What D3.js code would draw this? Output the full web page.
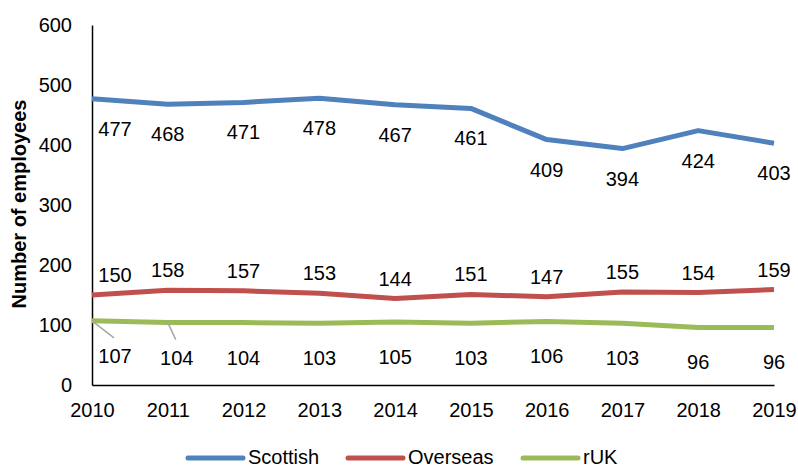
<!DOCTYPE html>
<html><head><meta charset="utf-8">
<script src="https://cdn.jsdelivr.net/npm/d3@7"></script>
<style>body{margin:0;background:#fff}svg{display:block}text{font-family:"Liberation Sans",Arial,sans-serif}</style>
</head><body><svg id="c" width="798" height="467"></svg>
<script>
const years = [2010,2011,2012,2013,2014,2015,2016,2017,2018,2019];
const scottish = [477,468,471,478,467,461,409,394,424,403];
const overseas = [150,158,157,153,144,151,147,155,154,159];
const ruk = [107,104,104,103,105,103,106,103,96,96];
const yTicks = [0,100,200,300,400,500,600];
const seriesNames = ["Scottish","Overseas","rUK"];
const colors = ["#4F81BD","#C0504D","#9BBB59"];

const svg = d3.select("#c");
const x = d3.scaleLinear().domain([2010,2019]).range([92,774]);
const y = d3.scaleLinear().domain([0,600]).range([385,25]);
const fs = 20;

// axes
const yAxis = svg.append("g").attr("transform","translate(92,0)")
  .call(d3.axisLeft(y).tickValues(yTicks).tickSize(0).tickPadding(20));
yAxis.select(".domain").attr("stroke","#000").attr("stroke-width",1.5);
yAxis.selectAll("text").attr("font-size",fs).attr("fill","#000").style("font-family","Liberation Sans, Arial, sans-serif");
const xAxis = svg.append("g").attr("transform","translate(0,385)")
  .call(d3.axisBottom(x).tickValues(years).tickFormat(d3.format("d")).tickSize(0).tickPadding(18));
xAxis.select(".domain").attr("stroke","#000").attr("stroke-width",1.5);
xAxis.selectAll("text").attr("font-size",fs).attr("fill","#000").style("font-family","Liberation Sans, Arial, sans-serif");

svg.append("text").attr("transform","translate(19,204) rotate(-90)")
  .attr("text-anchor","middle").attr("dy","0.35em").attr("font-size",20).attr("font-weight","bold").text("Number of employees");

const data = [scottish, overseas, ruk];
const line = d3.line().x((d,i)=>x(years[i])).y(d=>y(d));
data.forEach((s,k)=>{
  svg.append("path").datum(s).attr("d",line).attr("fill","none")
    .attr("stroke",colors[k]).attr("stroke-width",5).attr("stroke-linejoin","round");
});

// data labels
const dyOff = [30, -20, 35];
data.forEach((s,k)=>{
  s.forEach((v,i)=>{
    let dx = i===0 ? 23 : 0;
    if (k===2 && i===1) dx = 9;
    const lx = x(years[i])+dx, ly = y(v)+dyOff[k];
    if (k===2 && i<2) {
      svg.append("line").attr("x1",x(years[i])).attr("y1",y(v)).attr("x2",lx-1).attr("y2",ly-18)
        .attr("stroke","#a6a6a6").attr("stroke-width",1.5);
    }
    svg.append("text").attr("x",lx).attr("y",ly).attr("dy","0.35em")
      .attr("text-anchor","middle").attr("font-size",fs).attr("fill","#000").text(v);
  });
});

// legend
const legX = [188,348,523];
seriesNames.forEach((n,k)=>{
  svg.append("line").attr("x1",legX[k]).attr("x2",legX[k]+55).attr("y1",458).attr("y2",458)
    .attr("stroke",colors[k]).attr("stroke-width",5).attr("stroke-linecap","round");
  svg.append("text").attr("x",legX[k]+60).attr("y",457).attr("dy","0.35em")
    .attr("font-size",fs).attr("fill","#000").text(n);
});
</script></body></html>
